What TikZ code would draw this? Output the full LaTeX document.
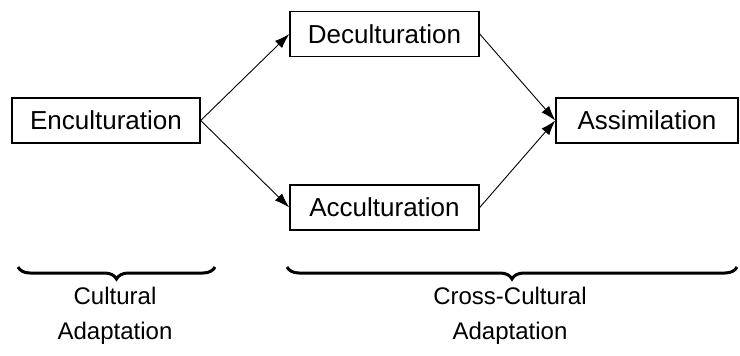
\documentclass[tikz,border=0pt]{standalone}
\usepackage{fontspec}
\setmainfont{Liberation Sans}
\usetikzlibrary{arrows.meta,decorations.pathreplacing}

\begin{document}
\begin{tikzpicture}[x=1pt,y=1pt,
  stage/.style={draw,line width=1.4pt,minimum height=45pt,inner sep=0pt,font=\fontsize{26}{30}\selectfont},
  link/.style={line width=0.9pt,-{Latex[length=15pt,width=10pt]}},
  span/.style={decorate,line width=3pt,decoration={brace,mirror,amplitude=12pt}},
  phase/.style={align=center,font=\fontsize{24}{35}\selectfont}]
\useasboundingbox (0,0) rectangle (740,-356);

% the four stages
\node[stage,minimum width=188pt] (enc) at (106,-120.5) {Enculturation};
\node[stage,minimum width=189pt] (dec) at (384.5,-34) {Deculturation};
\node[stage,minimum width=189pt] (acc) at (384.5,-207.5) {Acculturation};
\node[stage,minimum width=182pt] (asm) at (647,-120.5) {Assimilation};

\draw[link] (enc.east) -- (dec.west);
\draw[link] (enc.east) -- (acc.west);
\draw[link] (dec.east) -- (asm.west);
\draw[link] (acc.east) -- (asm.west);

% braces below
\coordinate (c1) at (18,-267);
\coordinate (c2) at (215,-267);
\coordinate (x1) at (287,-267);
\coordinate (x2) at (737,-267);
\draw[span] (c1) -- (c2);
\draw[span] (x1) -- (x2);

\node[phase] (cult) at (115,-316) {Cultural\\Adaptation};
\node[phase] (cross) at (510,-316) {Cross-Cultural\\Adaptation};
\end{tikzpicture}
\end{document}
